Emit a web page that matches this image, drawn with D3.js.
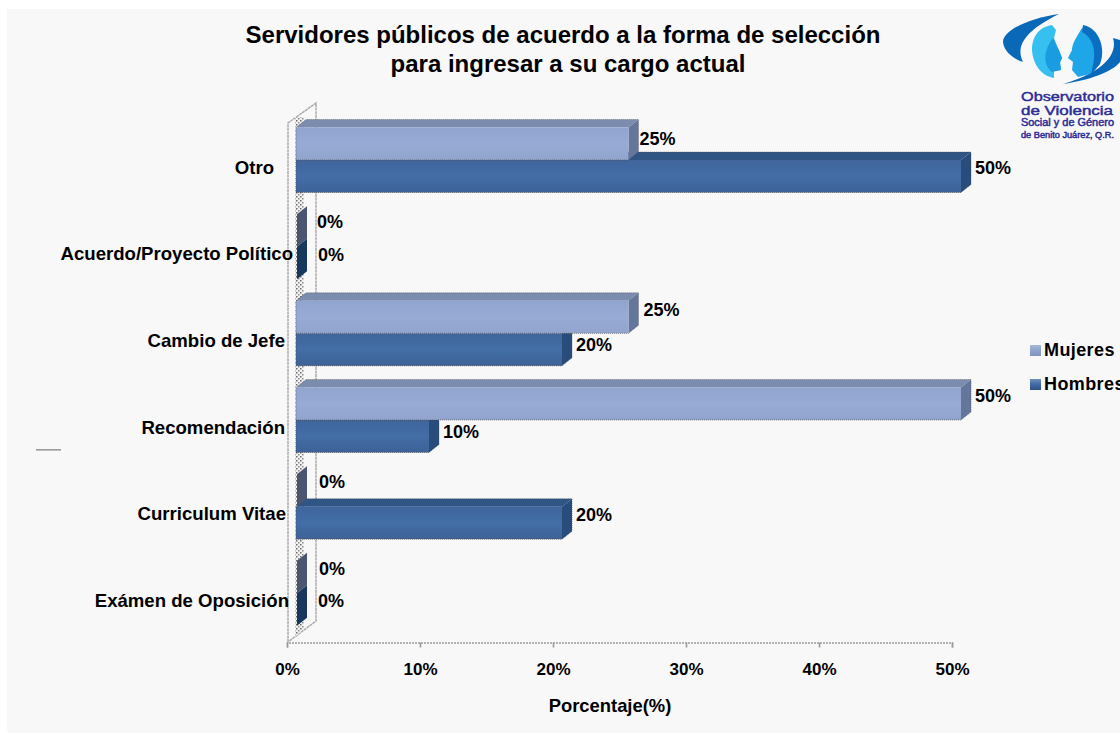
<!DOCTYPE html>
<html><head><meta charset="utf-8">
<script src="https://cdn.jsdelivr.net/npm/d3@7"></script>
<style>html,body{margin:0;background:#fff}svg{display:block}text{font-family:"Liberation Sans",Arial,sans-serif;font-weight:bold;fill:#000}</style>
</head><body><div id="c"></div>
<script>
const categories=["Otro","Acuerdo/Proyecto Político","Cambio de Jefe","Recomendación","Curriculum Vitae","Exámen de Oposición"];
const seriesNames=["Mujeres","Hombres"];
const mujeres=[25,0,25,50,0,0];
const hombres=[50,0,20,10,20,0];
const xTicks=[0,10,20,30,40,50];
const titleLines=["Servidores públicos de acuerdo a la forma de selección","para ingresar a su cargo actual"];
const axisTitle="Porcentaje(%)";
const logoLines=["Observatorio","de Violencia","Social y de Género","de Benito Juárez, Q.R."];

const W=1120,H=734,dx=10,dy=8,fx=9;
const svg=d3.select("#c").append("svg").attr("width",W).attr("height",H);
const defs=svg.append("defs");
function grad(id,c0,c1,c2){const g=defs.append("linearGradient").attr("id",id).attr("x1",0).attr("x2",0).attr("y1",0).attr("y2",1);
 g.append("stop").attr("offset",0).attr("stop-color",c0);g.append("stop").attr("offset",.5).attr("stop-color",c1);g.append("stop").attr("offset",1).attr("stop-color",c2);}
grad("gM","#90a4d0","#97abd5","#90a4ce");grad("gH","#3f659c","#436ea6","#3d6297");
grad("lM","#a9b8d8","#8da2cd","#7f94be");grad("lH","#6f8fbc","#3f6aa3","#2f5285");
const pattern=defs.append("pattern").attr("id","hatch").attr("width",4).attr("height",4).attr("patternUnits","userSpaceOnUse");
pattern.append("rect").attr("width",4).attr("height",4).attr("fill","#f2f2f2");
pattern.append("rect").attr("width",1.5).attr("height",1.5).attr("fill","#6a6a6a");
pattern.append("rect").attr("x",2).attr("y",2).attr("width",1.5).attr("height",1.5).attr("fill","#8a8a8a");

svg.append("rect").attr("x",7).attr("y",9).attr("width",W-7).attr("height",724).attr("fill","#f8f8f8");

const x=d3.scaleLinear().domain([0,50]).range([287,952]);
const y=d3.scaleBand().domain(categories).range([116.67,636.67]).paddingInner(.25).paddingOuter(.125);
const yi=d3.scaleBand().domain(seriesNames).range([0,y.bandwidth()]);

// wall
const wall=svg.append("g");
wall.append("path").attr("d","M288,642 V123 L316,103 V621 L288,642 Z").attr("fill","none").attr("stroke","#aaaaaa").attr("stroke-width",1.5).attr("stroke-dasharray","3 0.6");
wall.append("rect").attr("x",295).attr("y",117).attr("width",9).attr("height",511).attr("fill","url(#hatch)");
wall.append("path").attr("d","M295,628 L304,628 L295,637Z").attr("fill","url(#hatch)");

// axis
const axis=d3.axisBottom(x).tickValues(xTicks).tickFormat(d=>d+"%").tickSize(5).tickPadding(15);
const ag=svg.append("g").attr("transform","translate(0,642.5)").call(axis);
ag.selectAll("path,line").attr("stroke","#9a9a9a").attr("stroke-width",1.6);
ag.select("path").attr("stroke-dasharray","2 1");
ag.selectAll("text").attr("font-size",17).attr("font-family",'"Liberation Sans"').attr("font-weight","bold").attr("fill","#000");

// bars: Hombres first so the Mujeres bar sits in front of its top face
const rows=[];
categories.forEach((c,i)=>{rows.push({c,s:"Hombres",v:hombres[i],i});rows.push({c,s:"Mujeres",v:mujeres[i],i});});
const colors={Mujeres:{top:"#7b8cae",side:"#64769b",zside:"#4a556f",f:"url(#gM)"},Hombres:{top:"#2f5585",side:"#284c7b",zside:"#17375c",f:"url(#gH)"}};
const bars=svg.append("g");
rows.forEach(r=>{
 const x0=x(0)+fx,x1=x(r.v)+fx,y0=y(r.c)+yi(r.s),h=yi.bandwidth(),col=colors[r.s];
 const g=bars.append("g");
 if(r.v>0){
  g.append("path").attr("d",`M${x0},${y0} L${x0+dx},${y0-dy} H${x1+dx} L${x1},${y0} Z`).attr("fill",col.top);
  g.append("path").attr("d",`M${x1},${y0} L${x1+dx},${y0-dy} V${y0+h-dy} L${x1},${y0+h} Z`).attr("fill",col.side);
  g.append("rect").attr("x",x0).attr("y",y0).attr("width",x1-x0).attr("height",h).attr("fill",col.f);
  g.append("path").attr("d",`M${x0},${y0+h} H${x1} L${x1+dx},${y0+h-dy} V${y0-dy} H${x0+dx} L${x0},${y0} V${y0+h}`).attr("fill","none").attr("stroke","#444").attr("stroke-opacity",.55).attr("stroke-dasharray","1 1");
 } else {
  g.append("path").attr("d",`M${x1+1},${y0} L${x1+dx+1},${y0-dy} V${y0+h-dy} L${x1+1},${y0+h} Z`).attr("fill",col.zside);
 }
});

// data labels
const labelOffset={Mujeres:-24,Hombres:8.5};
const nudgeM=[[-3,3],[0,-1],[1,0],[0,0],[2,-1],[2,-1]];
const nudgeH=[[0,-1],[1,0],[0,3],[0,3],[0,0],[1,-1]];
svg.append("g").selectAll("text").data(rows).join("text")
 .attr("x",d=>x(d.v)+(d.v>0?23:30)+(d.s=="Mujeres"?nudgeM:nudgeH)[d.i][0])
 .attr("y",d=>y(d.c)+y.bandwidth()/2+labelOffset[d.s]+(d.s=="Mujeres"?nudgeM:nudgeH)[d.i][1]).attr("dy",".35em")
 .attr("font-size",18).text(d=>d.v+"%");

// category labels
const catEnd=[274,293,285,285,286,289];
svg.append("g").selectAll("text").data(categories).join("text")
 .attr("x",(d,i)=>catEnd[i]).attr("y",d=>y(d)+y.bandwidth()/2+7).attr("dy",".35em")
 .attr("text-anchor","end").attr("font-size",18.6).text(d=>d);

// title
const titleX=[563,568];
svg.append("g").selectAll("text").data(titleLines).join("text").attr("x",(d,i)=>titleX[i]).attr("y",(d,i)=>43+i*29)
 .attr("text-anchor","middle").attr("font-size",24).text(d=>d);
svg.append("text").attr("x",610).attr("y",712).attr("text-anchor","middle").attr("font-size",18.4).text(axisTitle);

// legend
const lg=svg.append("g").selectAll("g").data(seriesNames).join("g").attr("transform",(d,i)=>`translate(0,${350+i*34})`);
lg.append("rect").attr("x",1030).attr("y",-5).attr("width",11).attr("height",11).attr("fill",d=>d=="Mujeres"?"url(#lM)":"url(#lH)");
lg.append("text").attr("x",1044).attr("y",0).attr("dy",".35em").attr("font-size",18).attr("letter-spacing",.4).text(d=>d);

// small smudge left of the plot
svg.append("rect").attr("x",36).attr("y",449).attr("width",25).attr("height",1.6).attr("fill","#9a9a9a");

// logo
const lo=svg.append("g");
lo.append("path").attr("fill","#0a68b8").attr("d","M1059,14 C1030,18 1003,30 1003,42 C1004,52 1014,59 1023,62 C1016,48 1022,32 1059,14Z");
lo.append("path").attr("fill","#0a68b8").attr("d","M1063,84 C1090,80 1112,72 1120,62 V40 L1113,38 C1118,54 1104,72 1063,84Z");
lo.append("path").attr("fill","#35c0f0").attr("d","M1052,25 C1038,27 1032,38 1032,50 C1033,65 1042,76 1054,78 L1054,71 L1061,70 L1060,63 L1062,58 L1058,49 L1054,38 L1056,30Z");
lo.append("path").attr("fill","#1a9ce0").attr("d","M1053,38 L1059,50 L1062,58 L1060,62 L1061,70 L1052,72 C1044,66 1042,52 1053,38Z");
lo.append("path").attr("fill","#1ea6e8").attr("d","M1082,28 C1076,38 1072,44 1072,50 L1068,58 L1073,62 L1072,70 L1078,77 L1090,74 C1098,62 1098,46 1086,30Z");
lo.append("path").attr("fill","#0a6fc0").attr("d","M1083,25 C1100,28 1106,50 1100,64 L1090,76 C1097,56 1096,40 1082,32Z");
lo.selectAll("x").data(logoLines).join("text").attr("x",1021).attr("y",(d,i)=>[101,115,126,138][i])
 .attr("textLength",(d,i)=>[93,92,93,93][i]).attr("lengthAdjust","spacingAndGlyphs")
 .attr("font-size",(d,i)=>[13,13,10,8.5][i]).attr("style","fill:#2c2c96;font-weight:normal;stroke:#2c2c96;stroke-width:.45").text(d=>d);
</script></body></html>
